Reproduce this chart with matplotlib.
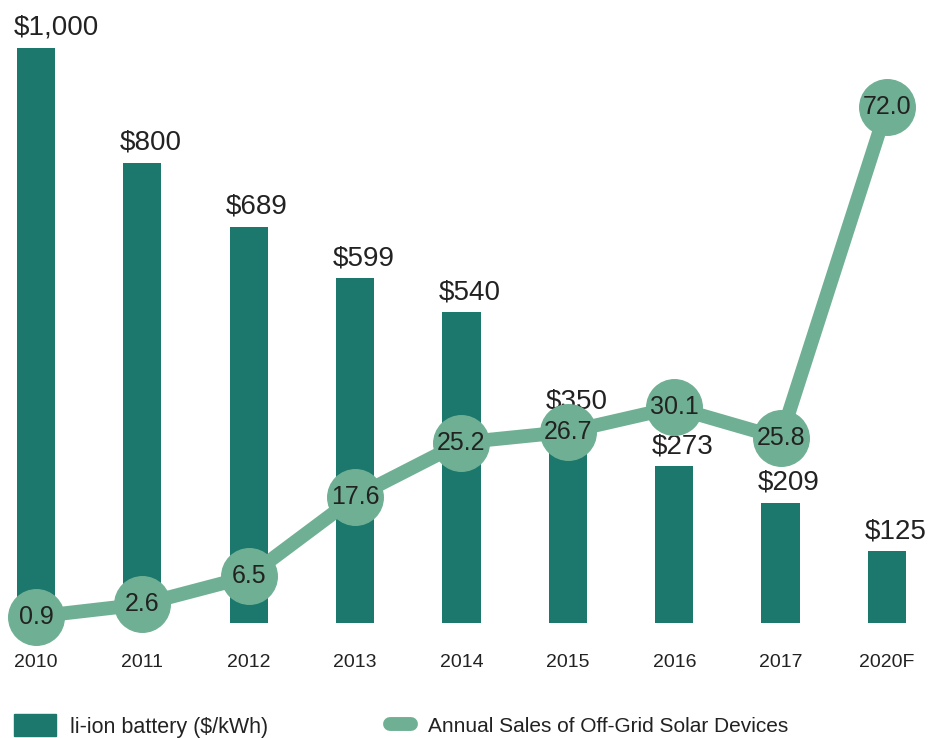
import numpy as np
from matplotlib import pyplot as plt
from matplotlib.patches import Patch
from matplotlib.lines import Line2D

# Datos
anios = ['2010', '2011', '2012', '2013', '2014', '2015', '2016', '2017', '2020F']
precio_bateria = [1000, 800, 689, 599, 540, 350, 273, 209, 125]
ventas_solares = [0.9, 2.6, 6.5, 17.6, 25.2, 26.7, 30.1, 25.8, 72.0]

color_barra = '#1c776c'
color_linea = '#6fb094'
fuente = ['Liberation Sans', 'DejaVu Sans']
plt.rcParams['font.family'] = fuente

fig = plt.figure(figsize=(9.35, 7.38), dpi=100)
ax = fig.add_axes([0, 115 / 738, 1, 623 / 738])
x = np.arange(len(anios))
ancho = 0.36

# Barras
ax.bar(x, precio_bateria, width=ancho, color=color_barra, zorder=1)
for xi, v in zip(x, precio_bateria):
    ax.annotate('${:,}'.format(v), (xi - ancho / 2, v), xytext=(-2.5, 5),
                textcoords='offset points', ha='left', va='bottom',
                fontsize=20, color='#222222')

ax.set_xlim(-0.338, 8.451)
ax.set_ylim(0, 1083)
ax.set_xticks(x)
ax.set_xticklabels(anios, fontsize=14, color='#222222')
ax.tick_params(axis='x', length=0, pad=22)
ax.set_yticks([])
for s in ax.spines.values():
    s.set_visible(False)

# Linea
ax2 = ax.twinx()
ax2.plot(x, ventas_solares, color=color_linea, lw=10, marker='o', markersize=40,
         solid_capstyle='round', zorder=3, clip_on=False)
for xi, v in zip(x, ventas_solares):
    ax2.text(xi, v, '{:.1f}'.format(v), ha='center', va='center', fontsize=18,
             color='#222222', zorder=4)
ax2.set_ylim(0, 87.0)
ax2.set_yticks([])
for s in ax2.spines.values():
    s.set_visible(False)

# Leyenda
fig.legend([Patch(color=color_barra)], ['li-ion battery ($/kWh)'],
           loc='center left', bbox_to_anchor=(14 / 935, 12 / 738), frameon=False,
           fontsize=15.5, handlelength=1.95, handleheight=1.2, handletextpad=0.65,
           borderpad=0, borderaxespad=0, labelcolor='#222222')
fig.legend([Line2D([0], [0], color=color_linea, lw=10, solid_capstyle='round')],
           ['Annual Sales of Off-Grid Solar Devices'],
           loc='center left', bbox_to_anchor=(390 / 935, 12 / 738), frameon=False,
           fontsize=15, handlelength=1.0, handletextpad=0.8,
           borderpad=0, borderaxespad=0, labelcolor='#222222')

plt.savefig('out.png', dpi=100)
